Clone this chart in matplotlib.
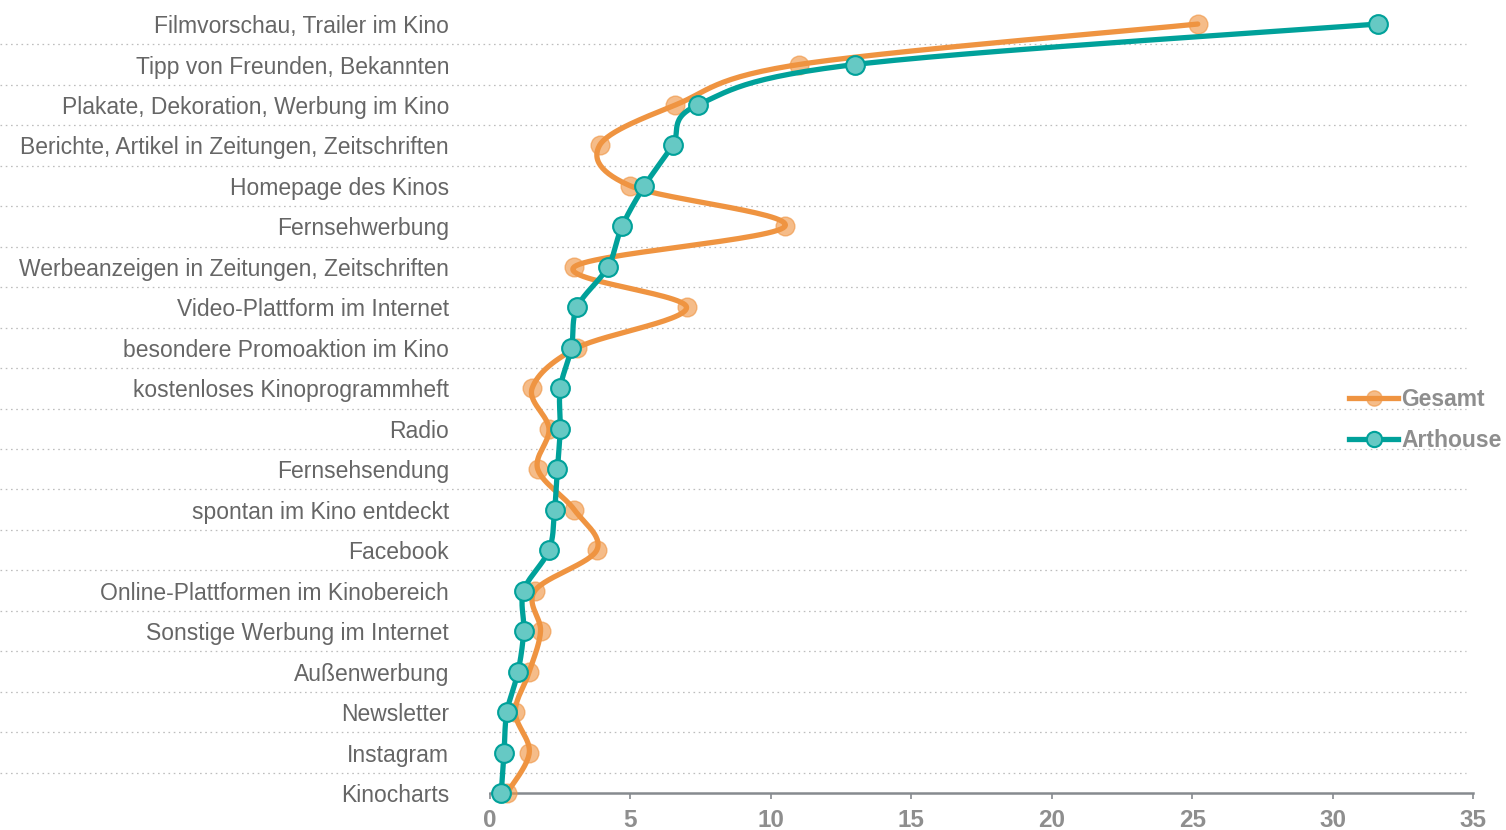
import numpy as np
import matplotlib
matplotlib.use("Agg")
import matplotlib.pyplot as plt
from matplotlib.lines import Line2D

# Sources of information about films (percent)
categories = [
    "Filmvorschau, Trailer im Kino",
    "Tipp von Freunden, Bekannten",
    "Plakate, Dekoration, Werbung im Kino",
    "Berichte, Artikel in Zeitungen, Zeitschriften",
    "Homepage des Kinos",
    "Fernsehwerbung",
    "Werbeanzeigen in Zeitungen, Zeitschriften",
    "Video-Plattform im Internet",
    "besondere Promoaktion im Kino",
    "kostenloses Kinoprogrammheft",
    "Radio",
    "Fernsehsendung",
    "spontan im Kino entdeckt",
    "Facebook",
    "Online-Plattformen im Kinobereich",
    "Sonstige Werbung im Internet",
    "Außenwerbung",
    "Newsletter",
    "Instagram",
    "Kinocharts",
]
gesamt = [25.2, 11.0, 6.6, 3.9, 5.0, 10.5, 3.0, 7.0, 3.1, 1.5,
          2.1, 1.7, 3.0, 3.8, 1.6, 1.8, 1.4, 0.9, 1.4, 0.6]
arthouse = [31.6, 13.0, 7.4, 6.5, 5.5, 4.7, 4.2, 3.1, 2.9, 2.5,
            2.5, 2.4, 2.3, 2.1, 1.2, 1.2, 1.0, 0.6, 0.5, 0.4]
series_names = ["Gesamt", "Arthouse"]
x_ticks = [0, 5, 10, 15, 20, 25, 30, 35]

ORANGE = "#EF9441"
TEAL = "#00A19A"
TEAL_FILL = "#66C9C4"
LABEL_GREY = "#666666"
TICK_GREY = "#8E8E8E"
AXIS_GREY = "#868A8F"
GRID_GREY = "#BDBDBD"


def catmull_rom(xs, ys, steps=30):
    """Uniform Catmull-Rom spline through the given points."""
    p = np.column_stack([xs, ys]).astype(float)
    p = np.vstack([p[0], p, p[-1]])
    out = []
    t = np.linspace(0, 1, steps, endpoint=False)[:, None]
    for i in range(1, len(p) - 2):
        p0, p1, p2, p3 = p[i - 1], p[i], p[i + 1], p[i + 2]
        m1 = (p2 - p0) / 2
        m2 = (p3 - p1) / 2
        h00 = 2 * t**3 - 3 * t**2 + 1
        h10 = t**3 - 2 * t**2 + t
        h01 = -2 * t**3 + 3 * t**2
        h11 = t**3 - t**2
        out.append(h00 * p1 + h10 * m1 + h01 * p2 + h11 * m2)
    out.append(p[-2][None, :])
    c = np.vstack(out)
    return c[:, 0], c[:, 1]


plt.rcParams["font.family"] = ["Liberation Sans", "DejaVu Sans"]

W, H = 1506, 830
fig = plt.figure(figsize=(W / 100, H / 100), dpi=100)
ax_left, ax_right = 490, 1473
y_top_px, y_bot_px = 3.8, 793
ax = fig.add_axes([ax_left / W, (H - y_bot_px) / H,
                   (ax_right - ax_left) / W, (y_bot_px - y_top_px) / H])

n = len(categories)
idx = np.arange(n)
ax.set_xlim(0, 35)
ax.set_ylim(n - 1, -0.5)

# dotted separators between categories, running under the labels
for k in range(n - 1):
    ax.plot([-ax_left / (ax_right - ax_left), (1466 - ax_left) / (ax_right - ax_left)],
            [k + 0.5, k + 0.5], transform=ax.get_yaxis_transform(),
            color=GRID_GREY, lw=0.9, linestyle=(0, (1.3, 2.9)),
            clip_on=False, zorder=0)

# Gesamt: smoothed line with translucent markers
gx, gy = catmull_rom(gesamt, idx)
ax.plot(gx, gy, color=ORANGE, lw=3.8, solid_capstyle="round", zorder=2, clip_on=False)
ax.plot(gesamt, idx, linestyle="none", marker="o", markersize=13.5,
        markerfacecolor=ORANGE, markeredgecolor=ORANGE, markeredgewidth=1.0,
        alpha=0.62, zorder=3, clip_on=False)

# Arthouse: smoothed line with solid markers
ax_x, ax_y = catmull_rom(arthouse, idx)
ax.plot(ax_x, ax_y, color=TEAL, lw=3.8, solid_capstyle="round", zorder=4, clip_on=False)
ax.plot(arthouse, idx, linestyle="none", marker="o", markersize=13.5,
        markerfacecolor=TEAL_FILL, markeredgecolor=TEAL, markeredgewidth=1.5,
        zorder=5, clip_on=False)

# axes styling
for side in ["top", "right", "left"]:
    ax.spines[side].set_visible(False)
ax.spines["bottom"].set_color(AXIS_GREY)
ax.spines["bottom"].set_linewidth(1.8)
ax.spines["bottom"].set_zorder(1)

ax.set_xticks(x_ticks)
ax.set_xticklabels([str(v) for v in x_ticks], fontsize=17.5, fontweight="bold",
                   color=TICK_GREY,
                   family=["Liberation Sans Narrow", "Liberation Sans", "DejaVu Sans"])
ax.tick_params(axis="x", direction="out", length=4.5, width=1.2, color=AXIS_GREY, pad=7)

ax.set_yticks(idx)
ax.set_yticklabels(categories, fontsize=16.5, color=LABEL_GREY)
ax.tick_params(axis="y", length=0, pad=29.5)

# legend
handles = [
    Line2D([], [], color=ORANGE, lw=3.8, marker="o", markersize=11,
           markerfacecolor=(0.937, 0.58, 0.255, 0.62), markeredgecolor=(0.937, 0.58, 0.255, 0.62)),
    Line2D([], [], color=TEAL, lw=3.8, marker="o", markersize=11,
           markerfacecolor=TEAL_FILL, markeredgecolor=TEAL, markeredgewidth=1.5),
]
leg = ax.legend(handles, series_names, loc="center left",
                bbox_to_anchor=(1349 / W, 1 - 420 / H), bbox_transform=fig.transFigure,
                frameon=False, borderpad=0, borderaxespad=0, handlelength=2.15,
                handletextpad=0.12, labelspacing=0.8,
                prop={"size": 16.5, "weight": "bold"}, labelcolor=TICK_GREY)

fig.savefig("out.png", dpi=100)
